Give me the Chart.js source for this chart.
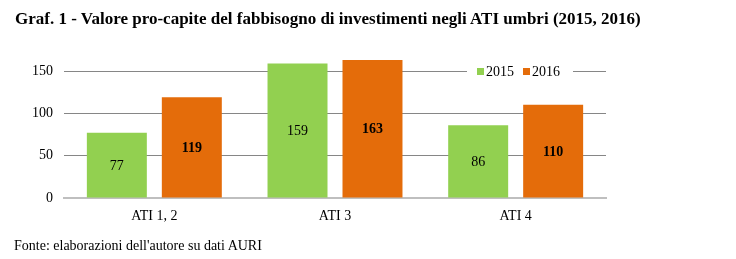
<!DOCTYPE html>
<html>
<head>
<meta charset="utf-8">
<script src="https://cdn.jsdelivr.net/npm/chart.js@4.4.1/dist/chart.umd.min.js"></script>
<style>
  html, body { margin: 0; padding: 0; background: #fff; }
  #wrap { position: relative; width: 736px; height: 259px; overflow: hidden; }
  #title { position: absolute; left: 15px; top: 9px; font: bold 17px "Liberation Serif", "Times New Roman", serif; color: #000; white-space: nowrap; }
  #foot { position: absolute; left: 14px; top: 238px; font: 14px "Liberation Serif", "Times New Roman", serif; color: #000; white-space: nowrap; }
  canvas { position: absolute; left: 0; top: 0; }
</style>
</head>
<body>
<div id="wrap">
  <canvas id="c" width="736" height="259"></canvas>
  <div id="title">Graf. 1 - Valore pro-capite del fabbisogno di investimenti negli ATI umbri (2015, 2016)</div>
  <div id="foot">Fonte: elaborazioni dell'autore su dati AURI</div>
</div>
<script>
const categories = ["ATI 1, 2", "ATI 3", "ATI 4"];
const seriesNames = ["2015", "2016"];
const values2015 = [77, 159, 86];
const values2016 = [119, 163, 110];
const yTicks = [0, 50, 100, 150];

const colors = ["#92d050", "#e46c0a"];
const serif = '"Liberation Serif", "Times New Roman", serif';

const labelPlugin = {
  id: 'barLabels',
  afterDatasetsDraw(chart) {
    const ctx = chart.ctx;
    chart.data.datasets.forEach((ds, i) => {
      const meta = chart.getDatasetMeta(i);
      meta.data.forEach((bar, j) => {
        ctx.save();
        ctx.font = (i === 1 ? 'bold ' : '') + '14px ' + serif;
        ctx.fillStyle = '#000';
        ctx.textAlign = 'center';
        ctx.textBaseline = 'middle';
        ctx.fillText(String(ds.data[j]), bar.x, (bar.y + bar.base) / 2 + 1);
        ctx.restore();
      });
    });
  }
};

const legendPlugin = {
  id: 'innerLegend',
  afterDraw(chart) {
    const ctx = chart.ctx;
    const ys = chart.scales.y;
    const y = ys.getPixelForValue(150);
    let x = chart.chartArea.right - 129;
    ctx.save();
    ctx.fillStyle = '#fff';
    ctx.fillRect(x - 10, y - 3, 106, 6);
    ctx.font = '14px ' + serif;
    ctx.textBaseline = 'middle';
    chart.data.datasets.forEach((ds, i) => {
      ctx.fillStyle = ds.backgroundColor;
      ctx.fillRect(x, y - 3, 7, 7);
      ctx.fillStyle = '#000';
      ctx.textAlign = 'left';
      ctx.fillText(ds.label, x + 9, y + 1);
      x += 46;
    });
    ctx.restore();
  }
};

new Chart(document.getElementById('c'), {
  type: 'bar',
  data: {
    labels: categories,
    datasets: [
      { label: seriesNames[0], data: values2015, backgroundColor: colors[0] },
      { label: seriesNames[1], data: values2016, backgroundColor: colors[1] }
    ]
  },
  options: {
    responsive: false,
    animation: false,
    devicePixelRatio: 1,
    categoryPercentage: 0.83,
    barPercentage: 0.8,
    layout: { padding: { left: 0, right: 130, top: 45.6, bottom: 0 } },
    plugins: { legend: { display: false }, tooltip: { enabled: false }, title: { display: false } },
    scales: {
      x: {
        grid: { display: false, drawTicks: false },
        border: { display: true, color: '#bfbfbf', width: 2 },
        ticks: { color: '#000', font: { family: serif, size: 14 }, padding: 10 },
        afterFit(s) { s.height = 61; }
      },
      y: {
        min: 0, max: 180,
        afterBuildTicks(s) { s.ticks = yTicks.map(v => ({ value: v })); },
        grid: { color: (c) => c.tick && c.tick.value === 0 ? 'rgba(0,0,0,0)' : '#868686', lineWidth: 1, drawTicks: false },
        border: { display: false },
        ticks: { color: '#000', font: { family: serif, size: 14 }, padding: 11 },
        afterFit(s) { s.width = 64; }
      }
    }
  },
  plugins: [labelPlugin, legendPlugin]
});
</script>
</body>
</html>
